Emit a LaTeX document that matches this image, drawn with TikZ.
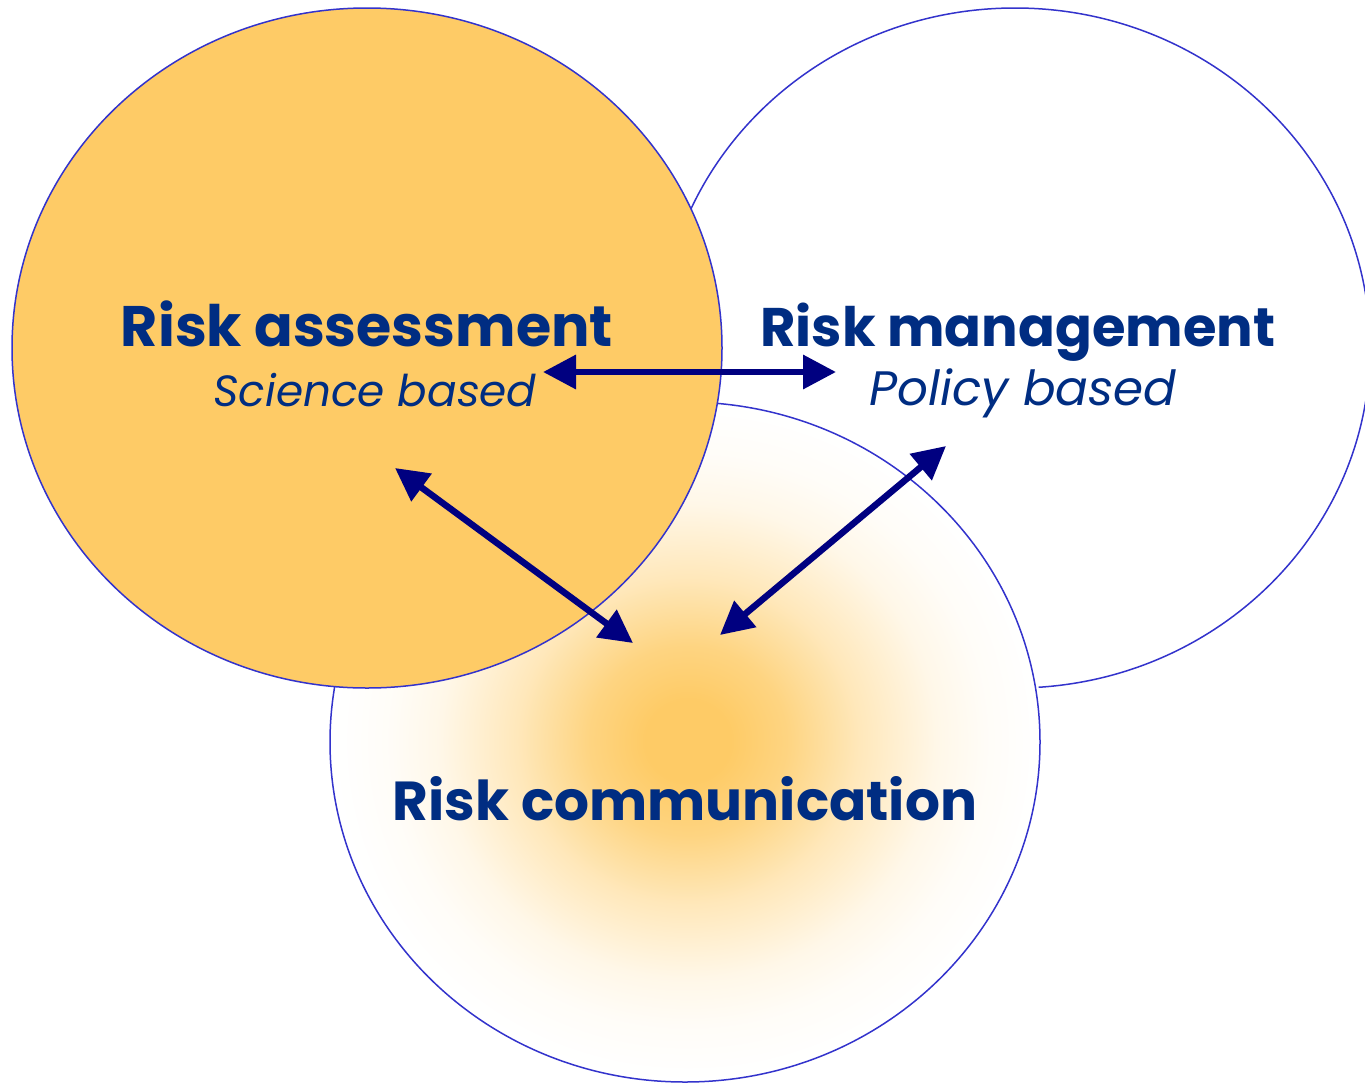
\documentclass[tikz,border=0pt]{standalone}
\usepackage{fontspec}
\usetikzlibrary{arrows.meta}
\newfontfamily\comic{Poppins}
\definecolor{riskorange}{RGB}{254,203,102}
\colorlet{glowa}{riskorange!82!white}
\colorlet{glowb}{riskorange!45!white}
\colorlet{glowc}{riskorange!15!white}
\colorlet{glowd}{riskorange!5!white}
\colorlet{glowe}{riskorange!1!white}
\definecolor{ringblue}{RGB}{51,51,204}
\definecolor{textblue}{RGB}{0,45,130}
\definecolor{arrownavy}{RGB}{0,0,128}
\pgfdeclareradialshading{commglow}{\pgfpoint{0bp}{0bp}}{color(0bp)=(riskorange); color(3bp)=(riskorange); color(7bp)=(glowa); color(12bp)=(glowb); color(17.5bp)=(glowc); color(21bp)=(glowd); color(24bp)=(glowe); color(25bp)=(white); color(50bp)=(white)}
\begin{document}
\begin{tikzpicture}[x=1pt,y=-1pt,
  ring/.style={draw=ringblue, line width=1.5pt},
  title/.style={font=\comic\bfseries, text=textblue, inner sep=0pt, anchor=base},
  sub/.style={font=\comic\itshape, text=textblue, inner sep=0pt, anchor=base},
  link/.style={draw=arrownavy, line width=6.5pt, >={Triangle[length=33pt,width=33pt]}, <->}]
\useasboundingbox (0,0) rectangle (1365,1082);
\clip (0,0) rectangle (1365,1082);
\fill[white] (0,0) rectangle (1365,1082);
% ellipses
\path[ring, fill=white] (1015,348) ellipse [x radius=355pt, y radius=340pt];
\path[shading=commglow] (688,741) ellipse [x radius=355pt, y radius=340pt];
\path[ring] (685,742) ellipse [x radius=355pt, y radius=340pt];
\path[ring, fill=riskorange] (367,348) ellipse [x radius=355pt, y radius=340pt];
% texts
\node[title] (ra) at (367,346) {\resizebox{492pt}{!}{Risk assessment}};
\node[sub] (sb) at (375,406) {\resizebox{323pt}{!}{Science based}};
\node[title] (rm) at (1018,346) {\resizebox{515pt}{!}{Risk management}};
\node[sub] (pb) at (1023,405) {\resizebox{307pt}{!}{Policy based}};
\node[title] (rc) at (685,820) {\resizebox{584pt}{!}{Risk communication}};
% arrow ends
\coordinate (h1) at (543,372);
\coordinate (h2) at (836,372);
\coordinate (d1a) at (395,468);
\coordinate (d1b) at (633,643);
\coordinate (d2a) at (946,446);
\coordinate (d2b) at (720,635);
\draw[link] (h1) -- (h2);
\draw[link] (d1a) -- (d1b);
\draw[link] (d2a) -- (d2b);
\end{tikzpicture}
\end{document}
